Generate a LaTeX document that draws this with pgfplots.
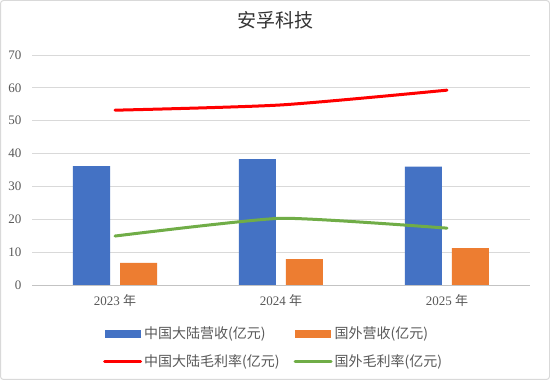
\documentclass[border=0pt]{standalone}
\usepackage{pgfplots}
\pgfplotsset{compat=1.18}
\usepackage{fontspec}
\setmainfont{Liberation Serif}
\newfontfamily\cjk{Noto Sans CJK SC}
\definecolor{cblue}{HTML}{4472C4}
\definecolor{corange}{HTML}{ED7D31}
\definecolor{cred}{HTML}{FF0000}
\definecolor{cgreen}{HTML}{70AD47}
\definecolor{cgrid}{HTML}{D9D9D9}
\definecolor{ctext}{HTML}{595959}
\begin{document}
\begin{tikzpicture}
\useasboundingbox (0pt,0pt) rectangle (550pt,380pt);
\fill[white] (0pt,0pt) rectangle (550pt,380pt);
\draw[color=cgrid, line width=1pt, rounded corners=3pt] (0.5pt,0.5pt) rectangle (549.5pt,379.5pt);
\node[font=\cjk\fontsize{19}{21}\selectfont, text=black!80] at (275pt,360pt) {安孚科技};
\begin{axis}[
  at={(32pt,95pt)}, anchor=south west,
  scale only axis, width=498pt, height=230pt,
  xmin=-0.5, xmax=2.5, ymin=0, ymax=70,
  xtick={0,1,2},
  xticklabels={{2023 {\cjk 年}},{2024 {\cjk 年}},{2025 {\cjk 年}}},
  ytick={0,10,20,30,40,50,60,70},
  axis x line*=bottom, axis y line*=left,
  y axis line style={draw=none},
  x axis line style={draw=cgrid!90!black, line width=0.8pt},
  major tick length=0pt,
  ymajorgrids, grid style={color=cgrid, line width=0.8pt},
  /pgf/number format/assume math mode=true,
  tick label style={font=\fontsize{13}{15}\selectfont, text=ctext},
  yticklabel style={xshift=-7pt},
  xticklabel style={yshift=-6pt},
  legend columns=2,
  legend cell align=left,
  legend style={draw=none, fill=none, at={(0.485,-0.165)}, anchor=north,
    font=\cjk\fontsize{14}{16}\selectfont, text=ctext, row sep=10pt,
    nodes={inner xsep=2pt},
    /tikz/every even column/.append style={column sep=12pt}},
]
\addplot[ybar, bar width=37pt, bar shift=-23.5pt, fill=cblue, draw=none,
  legend image code/.code={\fill[cblue] (0pt,-4pt) rectangle (36pt,4pt);}]
  coordinates {(0,36.2) (1,38.3) (2,36.0)};
\addlegendentry{中国大陆营收(亿元)}
\addplot[ybar, bar width=37pt, bar shift=23.5pt, fill=corange, draw=none,
  legend image code/.code={\fill[corange] (0pt,-4pt) rectangle (36pt,4pt);}]
  coordinates {(0,6.7) (1,7.9) (2,11.2)};
\addlegendentry{国外营收(亿元)}
\addplot[cred, line width=3pt, smooth, tension=0.4, line cap=round,
  legend image code/.code={\draw[cred, line width=3pt] (0pt,0pt) -- (36pt,0pt);}]
  coordinates {(0,53.2) (1,54.8) (2,59.3)};
\addlegendentry{中国大陆毛利率(亿元)}
\addplot[cgreen, line width=3pt, smooth, tension=0.3, line cap=round,
  legend image code/.code={\draw[cgreen, line width=3pt] (0pt,0pt) -- (36pt,0pt);}]
  coordinates {(0,14.9) (1,20.3) (2,17.3)};
\addlegendentry{国外毛利率(亿元)}
\end{axis}
\end{tikzpicture}
\end{document}
